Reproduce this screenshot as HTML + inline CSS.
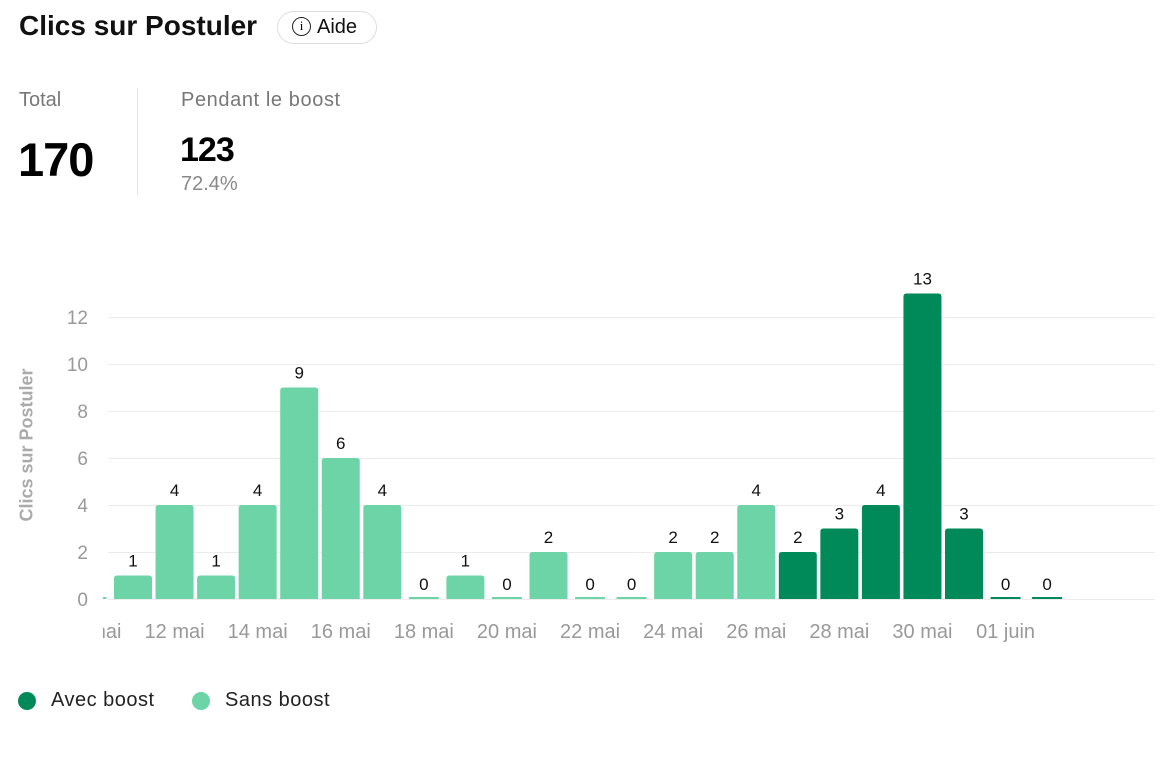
<!DOCTYPE html><html><head><meta charset="utf-8"><style>
body{margin:0;width:1174px;height:772px;background:#fff;font-family:"Liberation Sans",sans-serif;position:relative;overflow:hidden}
.a{position:absolute;white-space:nowrap}
</style></head><body>
<div class="a" style="left:19px;top:10px;font-size:28px;font-weight:bold;color:#111;letter-spacing:0px">Clics sur Postuler</div>
<div class="a" style="left:277px;top:11px;width:100px;height:33px;border:1px solid #ddd;border-radius:17px;box-sizing:border-box"></div>
<div class="a" style="left:292px;top:17px;width:19px;height:19px;border:1.5px solid #222;border-radius:50%;box-sizing:border-box;font-size:13px;text-align:center;line-height:16px;font-family:'Liberation Serif',serif">i</div>
<div class="a" style="left:317px;top:16px;font-size:20px;color:#111">Aide</div>
<div class="a" style="left:19px;top:89px;font-size:20px;color:#777">Total</div>
<div class="a" style="left:18px;top:132px;font-size:47px;font-weight:bold;color:#000;letter-spacing:-1px">170</div>
<div class="a" style="left:137px;top:88px;width:1px;height:107px;background:#e3e3e3"></div>
<div class="a" style="left:181px;top:89px;font-size:20px;color:#777;letter-spacing:0.6px">Pendant le boost</div>
<div class="a" style="left:180px;top:131px;font-size:34px;font-weight:bold;color:#000;letter-spacing:-1px">123</div>
<div class="a" style="left:181px;top:173px;font-size:20px;color:#888">72.4%</div>
<div class="a" style="left:27px;top:445px;transform:translate(-50%,-50%) rotate(-90deg);font-size:18px;color:#aaa;font-weight:bold">Clics sur Postuler</div>
<svg class="a" style="left:0;top:0" width="1174" height="772">
<defs><clipPath id="c"><rect x="103" y="250" width="1071" height="420"/></clipPath></defs>
<g stroke="#ececec" stroke-width="1">
<line x1="108" x2="1155" y1="599.5" y2="599.5"/><line x1="108" x2="1155" y1="552.5" y2="552.5"/><line x1="108" x2="1155" y1="505.5" y2="505.5"/><line x1="108" x2="1155" y1="458.5" y2="458.5"/><line x1="108" x2="1155" y1="411.5" y2="411.5"/><line x1="108" x2="1155" y1="364.5" y2="364.5"/><line x1="108" x2="1155" y1="317.5" y2="317.5"/>
</g>
<g font-size="19" fill="#999" text-anchor="end">
<text x="88" y="606">0</text><text x="88" y="559">2</text><text x="88" y="512">4</text><text x="88" y="465">6</text><text x="88" y="418">8</text><text x="88" y="371">10</text><text x="88" y="324">12</text>
</g>
<g id="bars" clip-path="url(#c)"></g>
</svg>
<div class="a" style="left:18px;top:692px;width:18px;height:18px;border-radius:50%;background:#008a5a"></div>
<div class="a" style="left:51px;top:689px;font-size:20px;color:#222;letter-spacing:0.5px">Avec boost</div>
<div class="a" style="left:192px;top:692px;width:18px;height:18px;border-radius:50%;background:#6cd4a6"></div>
<div class="a" style="left:225px;top:689px;font-size:20px;color:#222;letter-spacing:0.5px">Sans boost</div>
<script>
var v=[0,1,4,1,4,9,6,4,0,1,0,2,0,0,2,2,4,2,3,4,13,3,0,0];
var g=document.getElementById('bars'),s='';
for(var i=0;i<v.length;i++){var c=133+(i-1)*41.55,col=i>=17?'#008a5a':'#6cd4a6';
if(v[i]==0){s+='<rect x="'+(c-15)+'" y="597" width="30" height="2" fill="'+col+'"/>';}
else{var h=v[i]*23.5;s+='<path d="M'+(c-19)+' 599V'+(599-h+3)+'q0 -3 3 -3h32q3 0 3 3V599z" fill="'+col+'"/>';}
if(i>0)s+='<text x="'+c+'" y="'+(599-v[i]*23.5-9)+'" font-size="17" fill="#111" text-anchor="middle">'+v[i]+'</text>';
}
var d=['10 mai','12 mai','14 mai','16 mai','18 mai','20 mai','22 mai','24 mai','26 mai','28 mai','30 mai','01 juin'];
for(var k=0;k<d.length;k++){var c=133+(2*k-1)*41.55;s+='<text x="'+c+'" y="638" font-size="20" fill="#999" text-anchor="middle">'+d[k]+'</text>';}
g.innerHTML=s;
</script>
</body></html>
